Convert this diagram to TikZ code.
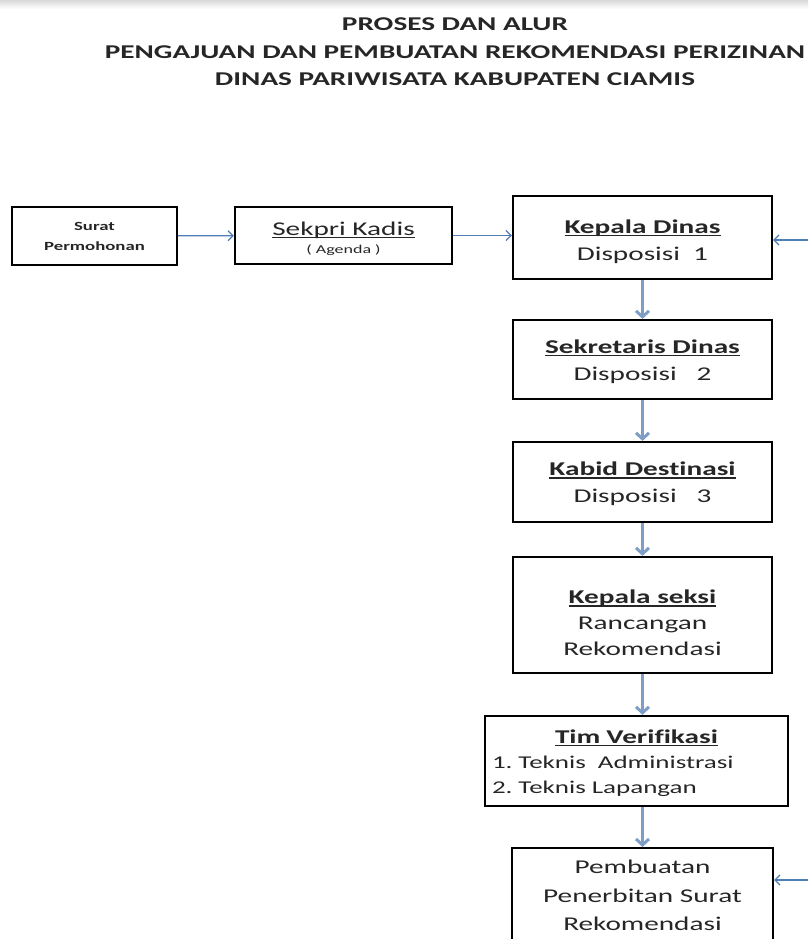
\documentclass[tikz,border=0pt]{standalone}
\usepackage{fontspec}
\setmainfont{Carlito}[FakeStretch=1.5, Ligatures=NoCommon]
\usetikzlibrary{arrows.meta}
\definecolor{flowblue}{RGB}{79,125,182}
\definecolor{downblue}{RGB}{126,158,199}
\definecolor{inkgray}{RGB}{38,38,38}
\newcommand{\ulbox}[1]{\setbox0\hbox{#1}\rlap{\rule[-3pt]{\wd0}{1.5pt}}\box0}
\newcommand{\padtop}[1]{\rule{0pt}{#1}}
\frenchspacing

\begin{document}
\begin{tikzpicture}[x=1pt, y=-1pt,
        box/.style={draw=black, line width=2.2pt, inner sep=0pt, align=center, text=inkgray, font=\fontsize{19.5}{27}\selectfont},
        flow/.style={color=flowblue, line width=1.3pt, -{Straight Barb[length=5pt, width=10pt]}},
        down/.style={color=downblue, line width=3pt, -{Straight Barb[length=6pt, width=13pt]}}]

        \useasboundingbox (0,0) rectangle (808,939);
        \clip (0,0) rectangle (808,939);
        \shade[top color=black!15, bottom color=white] (0,0) rectangle (808,9);

        \node[font=\bfseries\fontsize{19.5}{27.5}\selectfont, align=center, text=inkgray] (title) at (455,52) {PROSES DAN ALUR\\PENGAJUAN DAN PEMBUATAN REKOMENDASI PERIZINAN\\DINAS PARIWISATA KABUPATEN CIAMIS};

        \node[box, minimum width=165pt, minimum height=58pt, font=\bfseries\fontsize{12.5}{20}\selectfont] (surat) at (94.5,236) {Surat\\Permohonan};
        \node[box, minimum width=217pt, minimum height=57pt] (sekpri) at (343.5,235.5) {\padtop{20pt}\ulbox{Sekpri Kadis}\\[-9pt]{\fontsize{12}{14}\selectfont ( Agenda )}};
        \node[box, minimum width=259pt, minimum height=83pt] (kadis) at (642.5,237.5) {\padtop{22pt}\ulbox{\textbf{Kepala Dinas}}\\Disposisi\ \ 1};
        \node[box, minimum width=259pt, minimum height=79pt] (sekdis) at (642.5,359.5) {\padtop{18pt}\ulbox{\textbf{Sekretaris Dinas}}\\Disposisi\ \ \ 2};
        \node[box, minimum width=259pt, minimum height=80pt] (kabid) at (642.5,482) {\padtop{18pt}\ulbox{\textbf{Kabid Destinasi}}\\Disposisi\ \ \ 3};
        \node[box, minimum width=259pt, minimum height=116pt, font=\fontsize{19.5}{26}\selectfont] (kasi) at (642.5,615) {\padtop{30pt}\ulbox{\textbf{Kepala seksi}}\\Rancangan\\Rekomendasi};
        \node[box, minimum width=303pt, minimum height=90pt, inner xsep=7pt, text width=289pt, align=left, font=\fontsize{18}{25}\selectfont] (tim) at (636.5,761) {\makebox[\linewidth][c]{\padtop{18pt}\ulbox{\fontsize{19.5}{25}\selectfont\textbf{Tim Verifikasi}}}\\1. Teknis\ \ Administrasi\\2. Teknis Lapangan};
        \node[box, minimum width=261pt, anchor=north, inner ysep=12pt, font=\fontsize{19.5}{28.5}\selectfont] (buat) at (642.5,847) {Pembuatan\\Penerbitan Surat\\Rekomendasi\strut};

        \coordinate (fromA) at (808,240);
        \coordinate (fromB) at (808,880);

        \path[flow] (surat) edge (sekpri);
        \path[flow] (sekpri.east) edge (kadis.west |- sekpri.east);
        \path[flow] (fromA) edge (fromA -| kadis.east);
        \path[down] (kadis) edge (sekdis);
        \path[down] (sekdis) edge (kabid);
        \path[down] (kabid) edge (kasi);
        \path[down] (kasi.south) edge (tim.north -| kasi.south);
        \path[down] (buat.north |- tim.south) edge (buat.north);
        \path[flow] (fromB) edge (fromB -| buat.east);

    \end{tikzpicture}
\end{document}
